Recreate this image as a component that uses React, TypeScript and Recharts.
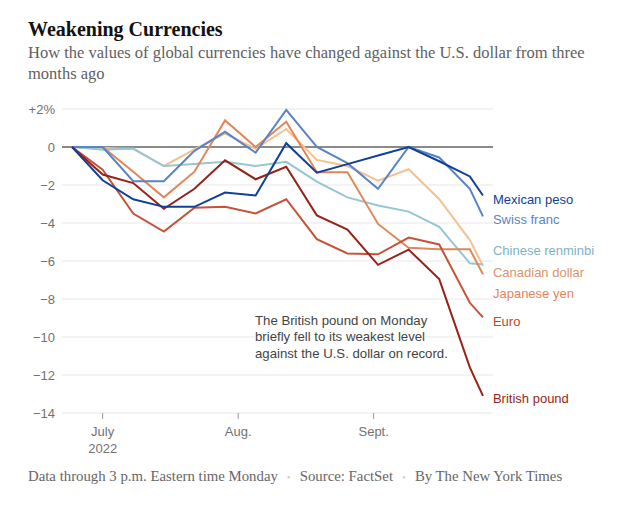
import React from "react";
import { CartesianGrid, Line, LineChart, ReferenceLine, XAxis, YAxis } from "recharts";

// weekly closes (Fridays) plus the final Monday
const dates = [
  "2022-06-24", "2022-07-01", "2022-07-08", "2022-07-15", "2022-07-22",
  "2022-07-29", "2022-08-05", "2022-08-12", "2022-08-19", "2022-08-26",
  "2022-09-02", "2022-09-09", "2022-09-16", "2022-09-23", "2022-09-26",
];

const mexicanPeso = [0, -1.75, -2.75, -3.15, -3.15, -2.4, -2.55, 0.2, -1.35, -0.9, -0.45, 0.0, -0.75, -1.55, -2.55];
const swissFranc = [0, 0, -1.8, -1.8, -0.2, 0.8, -0.3, 1.95, 0.0, -0.85, -2.2, 0.0, -0.55, -2.2, -3.65];
const chineseRenminbi = [0, -0.15, -0.08, -1.0, -0.9, -0.78, -1.0, -0.78, -1.82, -2.65, -3.08, -3.4, -4.2, -6.12, -6.18];
const canadianDollar = [0, -0.05, -0.1, -1.0, -0.13, 0.7, -0.1, 0.95, -0.68, -1.0, -1.77, -1.17, -2.75, -4.9, -6.25];
const japaneseYen = [0, 0, -1.3, -2.65, -1.3, 1.4, 0.0, 1.33, -1.33, -1.33, -4.05, -5.3, -5.38, -5.38, -6.7];
const euro = [0, -1.2, -3.5, -4.45, -3.2, -3.15, -3.5, -2.75, -4.85, -5.6, -5.65, -4.77, -5.13, -8.2, -8.97];
const britishPound = [0, -1.45, -1.9, -3.25, -2.2, -0.7, -1.7, -1.04, -3.6, -4.35, -6.2, -5.4, -6.95, -11.6, -13.1];

const tickDates = ["2022-07-01", "2022-08-01", "2022-09-01"];
const tickLabels = [["July", "2022"], ["Aug."], ["Sept."]];
const yTicks = [2, 0, -2, -4, -6, -8, -10, -12, -14];

const DAY = 86400000;
const start = Date.parse(dates[0]);
const toDay = (d: string) => (Date.parse(d) - start) / DAY;

const series = [
  { key: "canadianDollar", name: "Canadian dollar", values: canadianDollar, color: "#f6c190", text: "#d8956b", dy: 6.7 },
  { key: "chineseRenminbi", name: "Chinese renminbi", values: chineseRenminbi, color: "#95c6d3", text: "#7fb2c2", dy: -13.7 },
  { key: "japaneseYen", name: "Japanese yen", values: japaneseYen, color: "#e1875a", text: "#e5845a", dy: 18.7 },
  { key: "swissFranc", name: "Swiss franc", values: swissFranc, color: "#5a84c4", text: "#5a84c4", dy: 3.3 },
  { key: "euro", name: "Euro", values: euro, color: "#c4533a", text: "#bf452c", dy: 4 },
  { key: "britishPound", name: "British pound", values: britishPound, color: "#962218", text: "#98251a", dy: 3 },
  { key: "mexicanPeso", name: "Mexican peso", values: mexicanPeso, color: "#10409a", text: "#123f96", dy: 3.6 },
];

const data = dates.map((d, i) => {
  const row: Record<string, number> = { day: toDay(d) };
  series.forEach((s) => (row[s.key] = s.values[i]));
  return row;
});

const sans = "'Liberation Sans', Arial, sans-serif";
const serif = "'Liberation Serif', 'Times New Roman', serif";

const fmtY = (v: number) => (v > 0 ? `+${v}%` : v < 0 ? `\u2212${Math.abs(v)}` : "0");

function XTick(props: any) {
  const { x, y, payload } = props;
  const idx = tickDates.findIndex((d) => toDay(d) === payload.value);
  const lines = tickLabels[idx] || [];
  return (
    <text x={x} y={y + 15} textAnchor="middle" fill="#727272" fontSize={13} fontFamily={sans}>
      {lines.map((l, i) => (
        <tspan key={l} x={x} dy={i === 0 ? 0 : 17}>
          {l}
        </tspan>
      ))}
    </text>
  );
}

const endLabel = (s: (typeof series)[number]) => (props: any) => {
  if (props.index !== dates.length - 1) return null;
  return (
    <text x={props.x + 10} y={props.y + s.dy + 4.5} fill={s.text} fontSize={13} fontFamily={sans}>
      {s.name}
    </text>
  );
};

export default function App() {
  return (
    <div style={{ position: "absolute", left: 0, top: 0, width: 633, height: 507, background: "#fff" }}>
      <div style={{ position: "absolute", left: 28, top: 17, fontFamily: serif, fontWeight: 700, fontSize: 20, lineHeight: "24px", color: "#121212" }}>
        Weakening Currencies
      </div>
      <div style={{ position: "absolute", left: 28, top: 42, fontFamily: serif, fontSize: 16.5, lineHeight: "21px", color: "#5f5f5f", whiteSpace: "nowrap" }}>
        How the values of global currencies have changed against the U.S. dollar from three
        <br />
        months ago
      </div>

      <div style={{ position: "absolute", left: 0, top: 0 }}>
        <LineChart width={633} height={507} data={data} margin={{ top: 109, right: 140, bottom: 64, left: 12 }}>
          <CartesianGrid vertical={false} stroke="#e8e8e8" strokeWidth={1.2} />
          <XAxis
            dataKey="day"
            type="number"
            domain={[-2.3, 96.3]}
            ticks={tickDates.map(toDay)}
            tick={<XTick />}
            axisLine={false}
            tickLine={{ stroke: "#999" }}
            tickSize={6}
            height={30}
            interval={0}
          />
          <YAxis
            type="number"
            domain={[-14, 2]}
            ticks={yTicks}
            tickFormatter={fmtY}
            axisLine={false}
            tickLine={false}
            tickSize={0}
            tickMargin={7}
            width={50}
            interval={0}
            tick={{ fill: "#727272", fontSize: 13, fontFamily: sans }}
          />
          <ReferenceLine y={0} stroke="#8a8a8a" strokeWidth={2} />
          {series.map((s) => (
            <Line
              key={s.key}
              dataKey={s.key}
              type="linear"
              stroke={s.color}
              strokeWidth={2}
              dot={false}
              isAnimationActive={false}
              label={endLabel(s)}
            />
          ))}
        </LineChart>
      </div>

      <div style={{ position: "absolute", left: 255, top: 313, fontFamily: sans, fontSize: 13.2, lineHeight: "16.3px", color: "#444" }}>
        {["The British pound on Monday", "briefly fell to its weakest level", "against the U.S. dollar on record."].map((t) => (
          <div key={t}>
            <span style={{ background: "#fff" }}>{t}</span>
          </div>
        ))}
      </div>

      <div style={{ position: "absolute", left: 28, top: 467, fontFamily: serif, fontSize: 14.8, lineHeight: "19px", color: "#666", whiteSpace: "nowrap" }}>
        Data through 3 p.m. Eastern time Monday
        <span style={{ color: "#d0d0d0", margin: "0 9px", fontSize: 11 }}>•</span>
        Source: FactSet
        <span style={{ color: "#d0d0d0", margin: "0 9px", fontSize: 11 }}>•</span>
        By The New York Times
      </div>
    </div>
  );
}
